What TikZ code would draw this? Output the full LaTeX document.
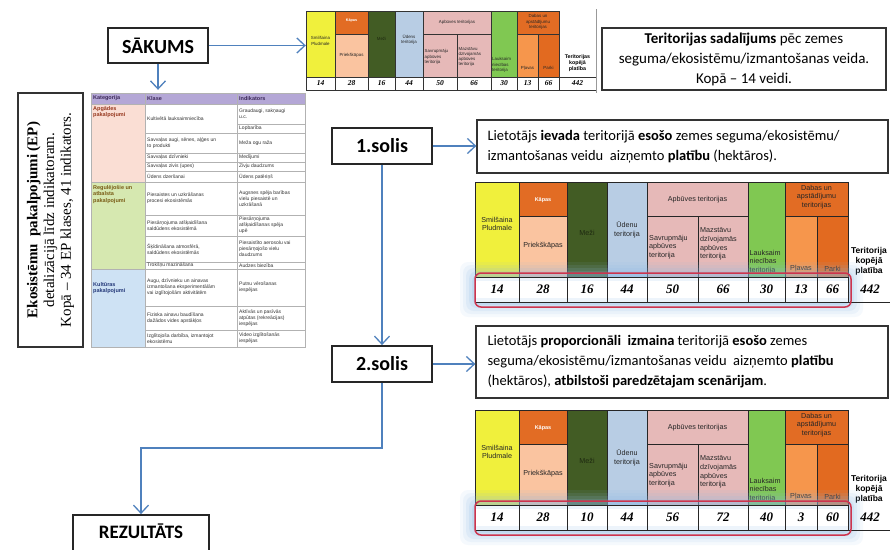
\documentclass[tikz,border=0pt]{standalone}
\usepackage{fontspec}
\setmainfont{Carlito}
\newfontfamily\arialf{Liberation Sans}
\newfontfamily\serff{Liberation Serif}
\usetikzlibrary{arrows.meta}
\definecolor{cblue}{RGB}{79,129,189}
\definecolor{cyel}{RGB}{240,240,60}
\definecolor{korange}{RGB}{226,108,36}
\definecolor{cpeach}{RGB}{250,196,160}
\definecolor{cforest}{RGB}{66,92,36}
\definecolor{cwater}{RGB}{184,205,228}
\definecolor{cpink}{RGB}{230,185,184}
\definecolor{cfield}{RGB}{128,200,82}
\definecolor{cmead}{RGB}{246,150,76}
\definecolor{cpark}{RGB}{226,106,32}
\definecolor{credb}{RGB}{205,52,78}
\definecolor{cglow}{RGB}{140,185,230}
\definecolor{ephead}{RGB}{180,167,214}
\definecolor{eppink}{RGB}{250,222,212}
\definecolor{epgreen}{RGB}{214,232,176}
\definecolor{epblue}{RGB}{206,226,244}
\tikzset{
 flow/.style={draw=cblue, line width=1.3pt, -{Straight Barb[length=8pt,width=15pt,line width=1.3pt]}},
 stepbox/.style={draw=black!85, line width=1.8pt, fill=white, font=\fontsize{20}{22}\selectfont\bfseries, inner sep=0, minimum width=100pt, minimum height=36pt},
 notebox/.style={draw=black!80, line width=1.3pt, fill=white, inner sep=0},
 notetxt/.style={font=\fontsize{14.5}{20}\selectfont, align=left, anchor=west, inner sep=0},
 cell/.style={draw=black!85, line width=0.9pt},
 ctxt/.style={font=\arialf\fontsize{7.2}{8.6}\selectfont, align=center, inner sep=0, text=black!85},
 ltxt/.style={font=\arialf\fontsize{7.2}{8.6}\selectfont, align=left, inner sep=0, anchor=west, text=black!85},
 valtxt/.style={font=\serff\fontsize{13}{14}\selectfont\bfseries\itshape, inner sep=0},
 tcell/.style={draw=black!80, line width=0.6pt},
 ttx/.style={font=\arialf\fontsize{4.4}{5.2}\selectfont, align=center, inner sep=0, text=black!85},
 ttl/.style={font=\arialf\fontsize{4.4}{5.2}\selectfont, align=left, inner sep=0, anchor=west, text=black!85},
 tval/.style={font=\serff\fontsize{7.5}{8}\selectfont\bfseries\itshape, inner sep=0},
 epgrid/.style={draw=black!30, line width=0.5pt},
 eptx/.style={font=\arialf\fontsize{5}{6}\selectfont, align=left, inner sep=0, anchor=west, text=black!80},
 ephx/.style={font=\arialf\fontsize{5.5}{6}\selectfont\bfseries, inner sep=0, anchor=west, text={rgb,255:red,60;green,40;blue,90}},
 epcat/.style={font=\arialf\fontsize{5.5}{6.5}\selectfont\bfseries, align=left, inner sep=0, anchor=north west},
}
% big table: #1 top y, #2 name prefix, #3 values value/x
\newcommand\bigtab[3]{%
\begin{scope}[yshift=-#1pt]
 \filldraw[cell, fill=cyel] (475,0) rectangle (519,95);
 \filldraw[cell, fill=korange] (519,0) rectangle (567,34);
 \filldraw[cell, fill=cpeach] (519,34) rectangle (567,95);
 \filldraw[cell, fill=cforest] (567,0) rectangle (607,95);
 \filldraw[cell, fill=cwater] (607,0) rectangle (647,95);
 \filldraw[cell, fill=cpink] (647,0) rectangle (748,34);
 \filldraw[cell, fill=cpink] (647,34) rectangle (698,95);
 \filldraw[cell, fill=cpink] (698,34) rectangle (748,95);
 \filldraw[cell, fill=cfield] (748,0) rectangle (785,95);
 \filldraw[cell, fill=korange] (785,0) rectangle (848,34);
 \filldraw[cell, fill=cmead] (785,34) rectangle (817,95);
 \filldraw[cell, fill=cpark] (817,34) rectangle (848,95);
 \node[ctxt] (#2a) at (497,42) {Smilšaina\\Pludmale};
 \node[ctxt, text=white, font=\arialf\fontsize{5.5}{6}\selectfont\bfseries] (#2b) at (543,18) {Kāpas};
 \node[ctxt] (#2c) at (543,64) {Priekškāpas};
 \node[ctxt, text=black!55!cforest] (#2d) at (587,51) {Meži};
 \node[ctxt] (#2e) at (627,48) {Ūdenu\\teritorija};
 \node[ctxt] (#2f) at (697.5,18) {Apbūves teritorijas};
 \node[ltxt] (#2g) at (649,65) {Savrupmāju\\apbūves\\teritorija};
 \node[ltxt] (#2h) at (700,62) {Mazstāvu\\dzīvojamās\\apbūves\\teritorija};
 \node[ltxt] (#2i) at (749.5,80) {Lauksaim\\niecības\\teritorija};
 \node[ctxt] (#2j) at (816.5,15) {Dabas un\\apstādījumu\\teritorijas};
 \node[ctxt] (#2k) at (801,87) {Pļavas};
 \node[ctxt] (#2l) at (832.5,87) {Parki};
 \node[ctxt, font=\arialf\fontsize{8.5}{10}\selectfont\bfseries, text=black] (#2m) at (869,79) {Teritorija\\kopējā\\platība};
 \foreach \e/\o in {15/0.08,12/0.10,9/0.13,6/0.16,3/0.2}
   \fill[cglow, opacity=\o, rounded corners=8pt] (475-\e,95-\e) rectangle (848+\e,120+\e);
 \fill[white] (475,95) rectangle (848,120);
 \fill[cglow, opacity=0.15] (475,95) rectangle (848,99);
 \fill[cglow, opacity=0.15] (475,116) rectangle (848,120);
 \draw[cell] (475,95) -- (848,95);
 \draw[cell] (475,120) -- (890,120);
 \foreach \xx in {475,519,567,607,647,698,748,785,817,848}
   \draw[cell] (\xx,95) -- (\xx,120);
 \foreach \v/\c [count=\i] in {#3}
   \node[valtxt] (#2v\i) at (\c,107.5) {\v};
 \node[valtxt] (#2tot) at (870,107.5) {442};
 \draw[draw=credb, line width=1.5pt, rounded corners=6pt] (475,91) rectangle (851,125);
\end{scope}}
\begin{document}
\begin{tikzpicture}[x=1pt,y=-1pt]
\useasboundingbox (0,0) rectangle (890,549);
\fill[white] (0,0) rectangle (890,549);
\clip (0,0) rectangle (890,549);

% ---------- top small table ----------
\filldraw[tcell, fill=cyel] (306,11) rectangle (335,77);
\filldraw[tcell, fill=korange] (335,11) rectangle (368,34);
\filldraw[tcell, fill=cpeach] (335,34) rectangle (368,77);
\filldraw[tcell, fill=cforest] (368,11) rectangle (395,77);
\filldraw[tcell, fill=cwater] (395,11) rectangle (423,77);
\filldraw[tcell, fill=cpink] (423,11) rectangle (491,34);
\filldraw[tcell, fill=cpink] (423,34) rectangle (457,77);
\filldraw[tcell, fill=cpink] (457,34) rectangle (491,77);
\filldraw[tcell, fill=cfield] (491,11) rectangle (517,77);
\filldraw[tcell, fill=korange] (517,11) rectangle (559,34);
\filldraw[tcell, fill=cmead] (517,34) rectangle (538,77);
\filldraw[tcell, fill=cpark] (538,34) rectangle (559,77);
\draw[tcell] (306,77) rectangle (596,90);
\foreach \xx in {335,368,395,423,457,491,517,538,559}
  \draw[tcell] (\xx,77) -- (\xx,90);
\draw[draw=black!40, line width=0.8pt] (596,9) -- (596,93);
\node[inner sep=0, minimum width=290pt, minimum height=79pt] (toptab) at (451,50.5) {};
\node[ttx] (tt1) at (320.5,41) {Smilšaina\\Pludmale};
\node[ttx, text=white, font=\arialf\fontsize{3.8}{4.5}\selectfont\bfseries] (tt2) at (351.5,21) {Kāpas};
\node[ttx] (tt3) at (351.5,55) {Priekškāpas};
\node[ttx, text=black!55!cforest] (tt4) at (381.5,39) {Meži};
\node[ttx] (tt5) at (409,40) {Ūdens\\teritorija};
\node[ttx] (tt6) at (457,22) {Apbūves teritorijas};
\node[ttl] (tt7) at (424.5,57) {Savrupmāju\\apbūves\\teritorija};
\node[ttl] (tt8) at (458.5,57) {Mazstāvu\\dzīvojamās\\apbūves\\teritorija};
\node[ttl] (tt9) at (492,65) {Lauksaim\\niecības\\teritorija};
\node[ttx] (tt10) at (538,22) {Dabas un\\apstādījumu\\teritorijas};
\node[ttx] (tt11) at (527.5,68) {Pļavas};
\node[ttx] (tt12) at (548.5,68) {Parki};
\node[ttx, font=\arialf\fontsize{5.3}{6.3}\selectfont\bfseries, text=black] (tt13) at (577.5,63) {Teritorijas\\kopējā\\platība};
\foreach \v/\c [count=\i] in {14/320.5,28/351.5,16/381.5,44/409,50/440,66/474,30/504,13/527.5,66/548.5,442/577.5}
  \node[tval] (ttv\i) at (\c,83.5) {\v};

% ---------- top right info ----------
\node[notebox, minimum width=284pt, minimum height=62pt, align=center, font=\fontsize{15}{20}\selectfont] (info) at (744,59)
  {\textbf{Teritorijas sadalījums} pēc zemes\\seguma/ekosistēmu/izmantošanas veida.\\Kopā – 14 veidi.};

% ---------- EP table ----------
\fill[ephead] (91,93) rectangle (305,104);
\fill[eppink] (91,104) rectangle (145,182);
\fill[epgreen] (91,182) rectangle (145,269);
\fill[epblue] (91,269) rectangle (145,347);
\draw[epgrid] (91,93) rectangle (305,347);
\draw[epgrid] (145,93) -- (145,347);
\draw[epgrid] (237,93) -- (237,347);
\foreach \yy in {104,182,269} \draw[epgrid] (91,\yy) -- (305,\yy);
\foreach \yy in {133,153,162,171,215,236,262,306,330} \draw[epgrid] (145,\yy) -- (305,\yy);
\draw[epgrid] (237,124) -- (305,124);
\node[inner sep=0, minimum width=214pt, minimum height=254pt] (ept) at (198,220) {};
\node[ephx] (eh1) at (93,98.5) {Kategorija};
\node[ephx] (eh2) at (147,98.5) {Klase};
\node[ephx] (eh3) at (239,98.5) {Indikators};
\node[epcat, text={rgb,255:red,150;green,55;blue,30}] (ec1) at (93,106) {Apgādes\\pakalpojumi};
\node[epcat, text={rgb,255:red,120;green,90;blue,20}] (ec2) at (93,185) {Regulējošie un\\atbalsta\\pakalpojumi};
\node[epcat, text={rgb,255:red,35;green,55;blue,120}] (ec3) at (93,282) {Kultūras\\pakalpojumi};
\node[eptx] (ek1) at (147,118.5) {Kultivētā lauksaimniecība};
\node[eptx] (ei1) at (239,114) {Graudaugi, sakņaugi\\u.c.};
\node[eptx] (ei1b) at (239,128.5) {Lopbarība};
\foreach \m/\k/\ind [count=\i] in {
  143/{Savvaļas augi, sēnes, aļģes un\\to produkti}/{Meža ogu raža},
  157.5/{Savvaļas dzīvnieki}/{Medījumi},
  166.5/{Savvaļas zivis (upes)}/{Zivju daudzums},
  176.5/{Ūdens dzeršanai}/{Ūdens patēriņš},
  198.5/{Piesaistes un uzkrāšanas\\procesi ekosistēmās}/{Augsnes spēja barības\\vielu piesaistē un\\uzkrāšanā},
  225.5/{Piesārņojuma atšķaidīšana\\saldūdens ekosistēmā}/{Piesārņojuma\\atšķaidīšanas spēja\\upē},
  249/{Šķīdināšana atmosfērā,\\saldūdens ekosistēmās}/{Piesaistīto aerosolu vai\\piesārņojošo vielu\\daudzums},
  265.5/{Trokšņu mazināšana}/{Audzes biezība},
  287.5/{Augu, dzīvnieku un ainavas\\izmantošana eksperimentālām\\vai izglītojošām aktivitātēm}/{Putnu vērošanas\\iespējas},
  318/{Fiziska ainavu baudīšana\\dažādos vides apstākļos}/{Aktīvās un pasīvās\\atpūtas (rekreācijas)\\iespējas},
  338.5/{Izglītojoša darbība, izmantojot\\ekosistēmu}/{Video izglītošanās\\iespējas}}
{
  \node[eptx] (ek\i x) at (147,\m) {\k};
  \node[eptx] (ei\i x) at (239,\m) {\ind};
}

% ---------- rotated EP box ----------
\node[notebox, line width=1.6pt, rotate=90, minimum width=254pt, minimum height=65pt, align=center,
      font=\serff\fontsize{15}{16.8}\selectfont] (epbox) at (50.5,220)
  {\textbf{Ekosistēmu\ \ pakalpojumi\ (EP)}\\detalizācijā līdz indikatoram.\\Kopā – 34 EP klases, 41 indikators.};

% ---------- big tables ----------
\bigtab{182}{ta}{14/497,28/543,16/587,44/627,50/672.5,66/723,30/766.5,13/801,66/832.5}
\bigtab{410}{tb}{14/497,28/543,10/587,44/627,56/672.5,72/723,40/766.5,3/801,60/832.5}

% ---------- step boxes ----------
\node[stepbox, minimum width=100pt, minimum height=35pt] (sakums) at (158,45.5) {SĀKUMS};
\node[stepbox] (solis1) at (382,146) {1.solis};
\node[stepbox] (solis2) at (382,364) {2.solis};
\node[stepbox, minimum width=136pt, minimum height=40pt] (rez) at (141,535) {};
\node[font=\fontsize{19}{21}\selectfont\bfseries, inner sep=0] (rezt) at (141,531) {REZULTĀTS};

\node[notebox, minimum width=411pt, minimum height=53pt] (txt1) at (682.5,146.5) {};
\node[notetxt] (txt1t) at ([xshift=11pt]txt1.west) {Lietotājs \textbf{ievada} teritorijā \textbf{esošo} zemes seguma/ekosistēmu/\\izmantošanas veidu\ \ aizņemto \textbf{platību} (hektāros).};
\node[notebox, minimum width=412pt, minimum height=72pt] (txt2) at (682,362) {};
\node[notetxt] (txt2t) at ([xshift=12pt]txt2.west) {Lietotājs \textbf{proporcionāli}\ \ \textbf{izmaina} teritorijā \textbf{esošo} zemes\\seguma/ekosistēmu/izmantošanas veidu\ \ aizņemto \textbf{platību}\\(hektāros), \textbf{atbilstoši paredzētajam scenārijam}.};

% ---------- connectors ----------
\coordinate (bend) at (382,448);
\draw[flow] (sakums.east) -- (sakums.east -| toptab.west);
\draw[flow, shorten >=3pt] (sakums.south) -- (sakums.south |- ept.north);
\draw[flow] (solis1.east) -- (solis1.east -| txt1.west);
\draw[flow] (solis1.south) -- (solis2.north);
\draw[flow] (solis2.east) -- (solis2.east -| txt2.west);
\draw[flow] (solis2.south) -- (bend) -| (rez.north);
\end{tikzpicture}
\end{document}
